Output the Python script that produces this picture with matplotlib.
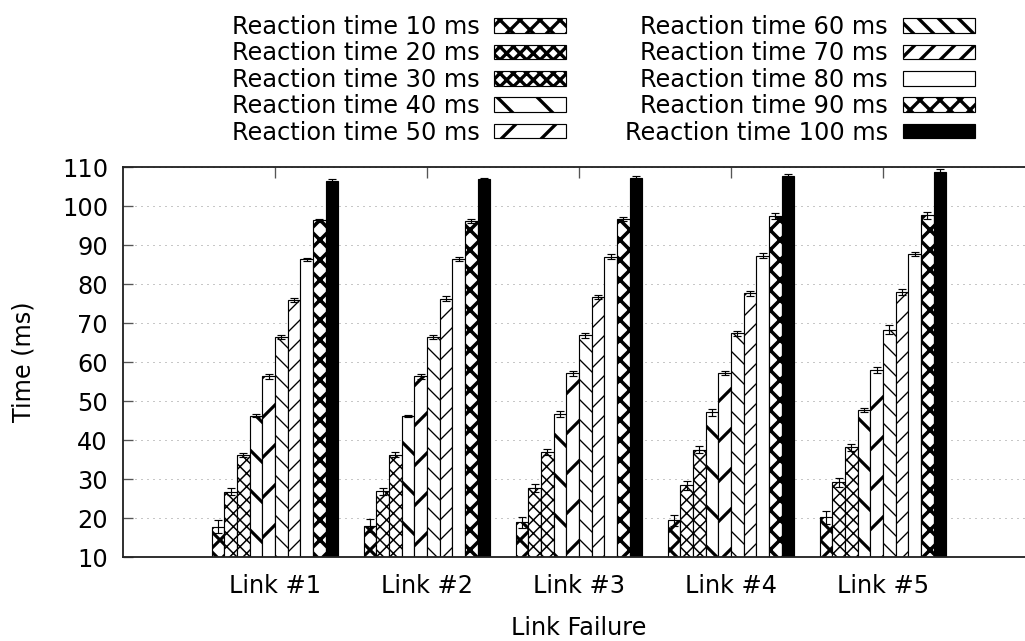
import matplotlib
matplotlib.use("Agg")
import matplotlib.pyplot as plt
import numpy as np

links = ["Link #1", "Link #2", "Link #3", "Link #4", "Link #5"]
series_labels = ["Reaction time 10 ms", "Reaction time 20 ms", "Reaction time 30 ms",
                 "Reaction time 40 ms", "Reaction time 50 ms", "Reaction time 60 ms",
                 "Reaction time 70 ms", "Reaction time 80 ms", "Reaction time 90 ms",
                 "Reaction time 100 ms"]

rt10 = [17.8, 18.1, 19.0, 19.5, 20.2]
rt20 = [26.8, 26.9, 27.7, 28.4, 29.2]
rt30 = [36.2, 36.3, 37.0, 37.6, 38.2]
rt40 = [46.3, 46.2, 46.7, 47.1, 47.7]
rt50 = [56.4, 56.4, 57.1, 57.2, 58.0]
rt60 = [66.4, 66.5, 66.9, 67.4, 68.3]
rt70 = [76.0, 76.3, 76.7, 77.6, 78.0]
rt80 = [86.4, 86.4, 87.0, 87.3, 87.7]
rt90 = [96.4, 96.2, 96.6, 97.4, 97.6]
rt100 = [106.5, 106.8, 107.2, 107.6, 108.6]

err10 = [1.7, 1.6, 1.4, 1.4, 1.6]
err20 = [0.9, 0.9, 1.0, 1.2, 1.1]
err30 = [0.6, 0.6, 0.8, 0.9, 0.9]
err40 = [0.3, 0.3, 0.7, 0.8, 0.6]
err50 = [0.6, 0.6, 0.6, 0.6, 0.7]
err60 = [0.5, 0.5, 0.6, 0.7, 1.2]
err70 = [0.5, 0.6, 0.5, 0.6, 0.7]
err80 = [0.4, 0.5, 0.6, 0.7, 0.6]
err90 = [0.4, 0.5, 0.5, 0.7, 0.8]
err100 = [0.4, 0.5, 0.5, 0.6, 0.9]

means = [rt10, rt20, rt30, rt40, rt50, rt60, rt70, rt80, rt90, rt100]
errs = [err10, err20, err30, err40, err50, err60, err70, err80, err90, err100]

# style per series: (facecolor, hatch, hatch linewidth)
styles = [
    ("white", "xxxx", 0.95),
    ("white", "xxxxxx", 0.45),
    ("white", "xxxxxx", 0.45),
    ("white", "\\\\", 0.95),
    ("white", "//", 0.95),
    ("white", "\\\\\\\\", 0.4),
    ("white", "////", 0.4),
    ("white", "", 0.4),
    ("white", "xxxx", 1.05),
    ("black", "", 0.4),
]

DPI = 240
fig = plt.figure(figsize=(1025 / DPI, 641 / DPI), dpi=DPI)
plt.rcParams['font.family'] = ['DejaVu Sans']
FS = 7.2

ax = fig.add_axes([123 / 1025, 1 - 557.3 / 641, (1035 - 123) / 1025, (557.3 - 167) / 641])
ax.set_axisbelow(True)

x = np.arange(len(links))
n = len(means)
w = 1.0 / (n + 2)
handles = []
for j in range(n):
    fc, hatch, hlw = styles[j]
    pos = x + (j - (n - 1) / 2) * w
    with plt.rc_context({'hatch.linewidth': hlw}):
        bars = ax.bar(pos, means[j], width=w, bottom=0, facecolor=fc, edgecolor="black",
                      linewidth=0.35, hatch=hatch if hatch else None, label=series_labels[j],
                      zorder=2)
        for p in bars.patches:
            if hasattr(p, "set_hatch_linewidth"):
                p.set_hatch_linewidth(hlw)
    ax.errorbar(pos, means[j], yerr=errs[j], fmt="none", ecolor="black",
                elinewidth=0.35, capsize=1.3, capthick=0.35, zorder=3)
    handles.append(bars)

ax.set_xlim(-1, 5)
ax.set_ylim(10, 110)
ax.set_yticks(np.arange(10, 111, 10))
ax.set_xticks(x)
ax.set_xticklabels(links, fontsize=FS)
ax.tick_params(axis="y", labelsize=FS, direction="in", length=3, width=0.4, color="#555555",
               pad=4.5, right=False)
ax.tick_params(axis="x", labelsize=FS, direction="in", length=3.3, width=0.4, color="#555555",
               pad=5, top=True, bottom=True)
ax.yaxis.grid(True, linestyle=(0, (1, 5)), linewidth=0.3, color="#909090")
for s in ax.spines.values():
    s.set_linewidth(0.55)
    s.set_color("#222222")

ax.set_ylabel("Time (ms)", fontsize=FS, labelpad=8)
ax.set_xlabel("Link Failure", fontsize=FS, labelpad=5.4)

fig.legend(handles=handles, labels=series_labels, ncol=2, markerfirst=False, frameon=False,
           loc="upper right", bbox_to_anchor=(975 / 1025, 1 - 15 / 641),
           borderaxespad=0, borderpad=0, fontsize=FS, handlelength=3.0, handleheight=0.55,
           handletextpad=0.62, columnspacing=2.45, labelspacing=0.1)

fig.savefig("out.png", dpi=DPI)
